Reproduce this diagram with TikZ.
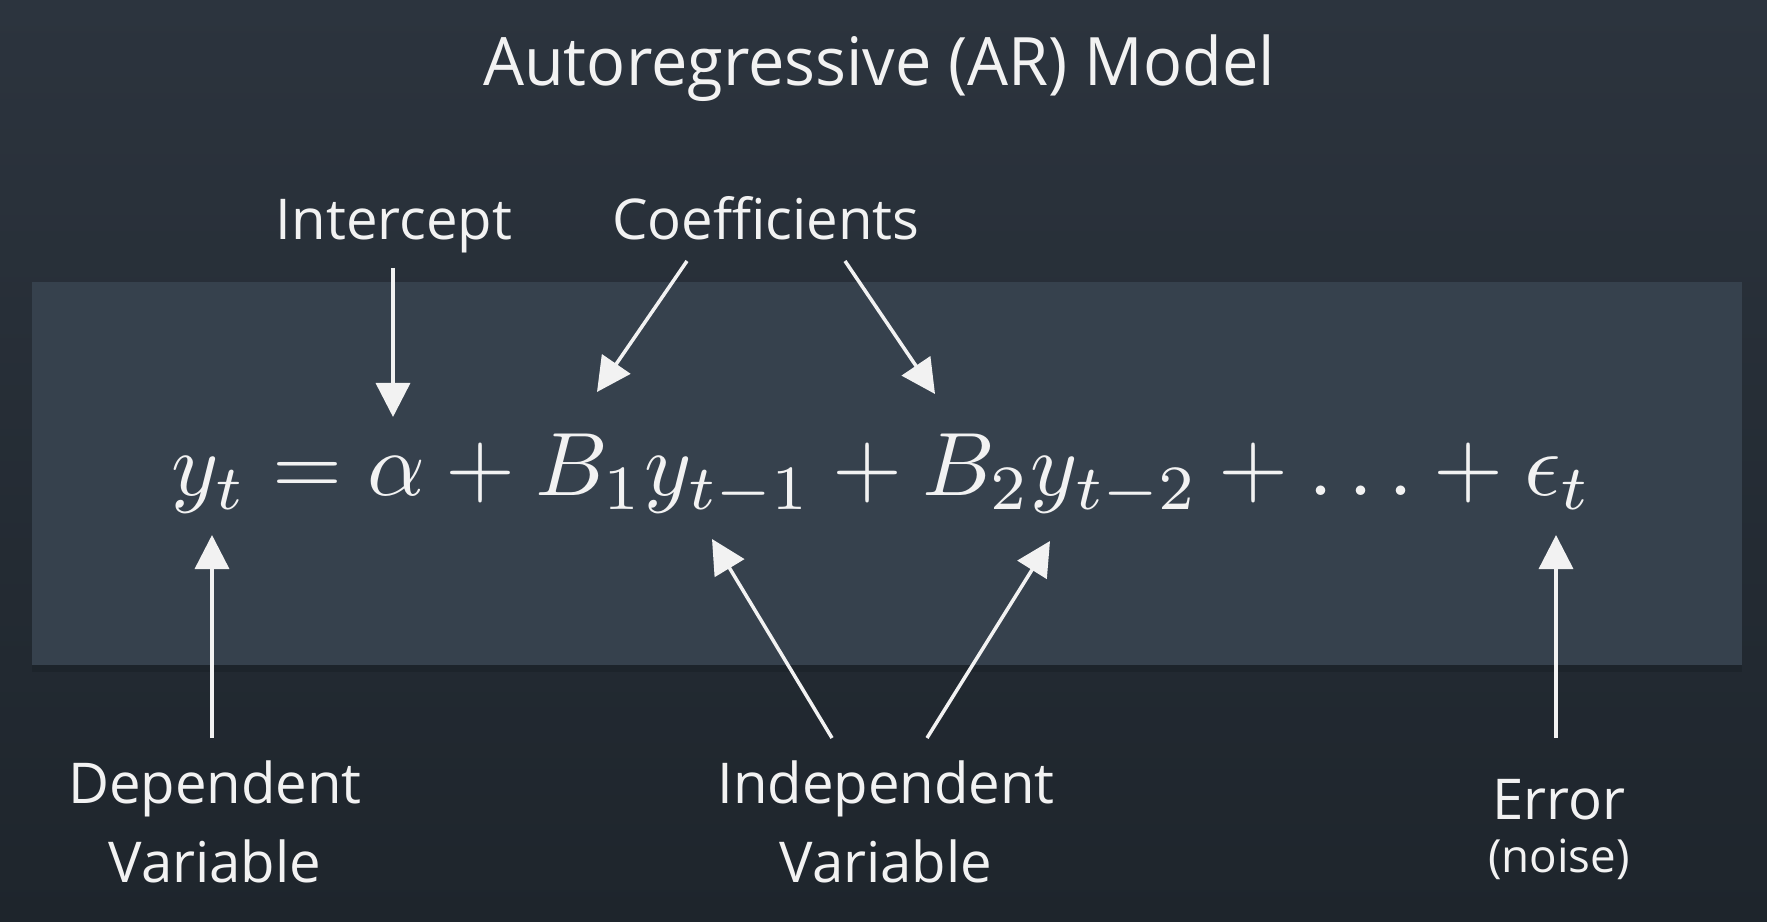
\documentclass[tikz,border=0pt]{standalone}
\usepackage{fontspec}
\newfontfamily\osans{Open Sans}
\newfontfamily\osanstitle[FakeStretch=0.97]{Open Sans}
\usetikzlibrary{arrows.meta,positioning}
\definecolor{bgtop}{HTML}{2C343E}
\definecolor{bgbot}{HTML}{1E252C}
\definecolor{panel}{HTML}{36414D}
\definecolor{ink}{HTML}{F2F2F2}
\tikzset{
  lbl/.style  ={text=ink, inner sep=0pt, align=center,
                font=\osans\fontsize{16}{22.4}\selectfont},
  ttl/.style  ={text=ink, inner sep=0pt, font=\osanstitle\fontsize{19}{23}\selectfont},
  eqn/.style  ={text=ink, inner sep=0pt, scale=2.56,
                font=\fontsize{10}{12}\selectfont},
  ptr/.style  ={draw=ink, line width=1pt,
                -{Triangle[length=3.4mm,width=3.4mm]}},
}
% tail/tip pairs of the pointers, in pixels of the slide
\def\ptrlist{pI/393/268/393/417, pCa/687/261/597/392, pCb/845/261/935/394,
             pD/212/738/212/535, pIa/832/738/712/539, pIb/927/738/1050/541,
             pE/1556/738/1556/535}

\begin{document}
\begin{tikzpicture}[x=0.01cm,y=-0.01cm]
\useasboundingbox (0,0) rectangle (1767,922);
% --- slide and panel ---
\shade[top color=bgtop,bottom color=bgbot] (0,0) rectangle (1767,922);
\fill[black,opacity=0.12] (32,665) rectangle (1742,672);
\fill[panel] (32,282) rectangle (1742,665);
% --- title and formula ---
\node[ttl] (title) at (879,68) {Autoregressive (AR) Model};
\node[eqn,anchor=base] (eq) at (882,496)
  {$y_t = \alpha + B_1 y_{t-1} + B_2 y_{t-2} + \ldots + \epsilon_t$};
% --- labels ---
\node[lbl,anchor=base] (icpt) at (394,240) {Intercept};
\node[lbl,anchor=base] (coef) at (766,240) {Coefficients};
\node[lbl] (dep)  at (215,822) {Dependent\\Variable};
\node[lbl] (indep) at (886,822) {Independent\\Variable};
\node[lbl] (err)  at (1559,800) {Error};
\node[lbl,font=\osans\fontsize{13}{16}\selectfont] (noise) at (1559,859) {(noise)};
% --- pointers ---
\foreach \n/\xa/\ya/\xb/\yb in \ptrlist {
  \coordinate (\n-tail) at (\xa,\ya);
  \coordinate (\n-tip)  at (\xb,\yb);
  \draw[ptr] (\n-tail) -- (\n-tip);
}
\end{tikzpicture}
\end{document}
